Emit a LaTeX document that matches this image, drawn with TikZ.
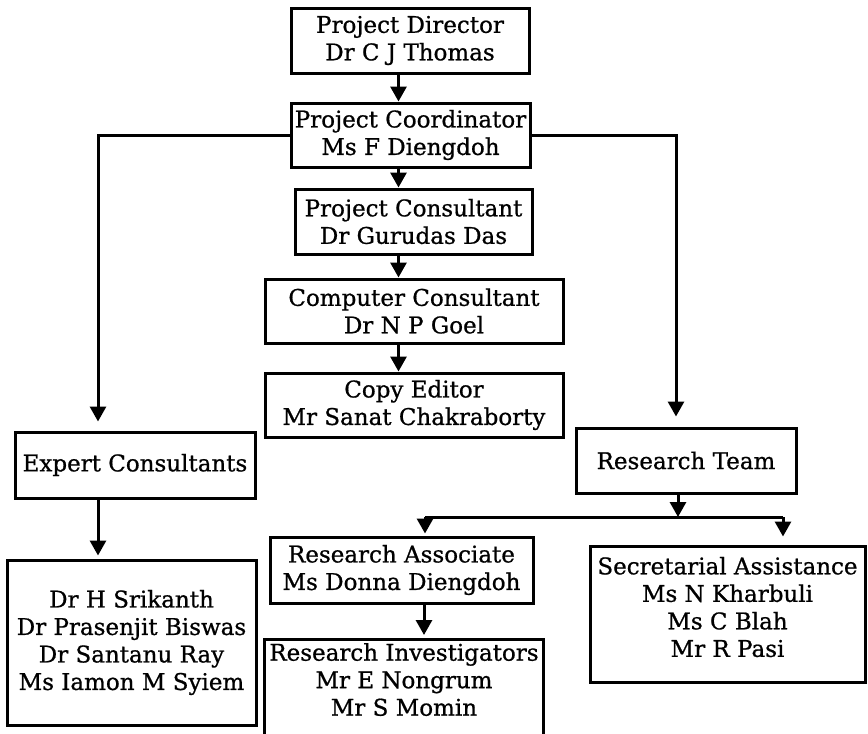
\documentclass[tikz,border=0pt]{standalone}
\usepackage{fontspec}
\setmainfont{DejaVu Serif}[FakeBold=0.8]
\usetikzlibrary{arrows.meta}
\begin{document}
\begin{tikzpicture}[x=1pt,y=-1pt,
  lbl/.style={font=\fontsize{23}{27.5}\selectfont, align=center},
  box/.style={lbl, draw, line width=3pt, inner sep=0pt},
  ln/.style={line width=3pt},
  arr/.style={ln, -{Triangle[length=15pt,width=16pt]}}]
\useasboundingbox (0,0) rectangle (868,734);
% boxes
\node[box, minimum width=238pt, minimum height=65pt] (PD) at (410,40.5) {Project Director\\Dr C J Thomas};
\node[box, minimum width=239pt, minimum height=64pt] (PC) at (410.5,135) {Project Coordinator\\Ms F Diengdoh};
\node[box, minimum width=237pt, minimum height=65pt] (PCo) at (413.5,221.5) {Project Consultant\\Dr Gurudas Das};
\node[box, minimum width=298pt, minimum height=64pt] (CC) at (414,311) {Computer Consultant\\Dr N P Goel};
\node[box, minimum width=298pt, minimum height=64pt] (CE) at (414,405) {Copy Editor\\Mr Sanat Chakraborty};
\node[box, minimum width=240pt, minimum height=66pt] (EC) at (135,465) {Expert Consultants};
\node[box, minimum width=249pt, minimum height=165pt] (EL) at (131.5,642.5) {Dr H Srikanth\\Dr Prasenjit Biswas\\Dr Santanu Ray\\Ms Iamon M Syiem};
\node[box, minimum width=220pt, minimum height=65pt] (RT) at (686,460.5) {Research Team};
\node[box, minimum width=263pt, minimum height=66pt] (RA) at (401.5,570) {Research Associate\\Ms Donna Diengdoh};
\node[box, minimum width=279pt, minimum height=130pt, anchor=north west] (RI) at (263,638) {};
\node[lbl, inner sep=0pt, anchor=north] (RIt) at ([yshift=-5pt]RI.north) {Research Investigators\\Mr E Nongrum\\Mr S Momin};
\node[box, minimum width=275pt, minimum height=136pt] (SA) at (727.5,614) {};
\node[lbl, inner sep=0pt] (SAt) at ([yshift=7pt]SA.center) {Secretarial Assistance\\Ms N Kharbuli\\Ms C Blah\\Mr R Pasi};
% guide coordinates
\coordinate (xa) at (398.5,0);
\coordinate (xe) at (98,0);
\coordinate (xr) at (676,0);
\coordinate (J) at (678,517);
\coordinate (JL) at (425,517);
\coordinate (JR) at (783,517);
\coordinate (xi) at (424,0);
% connectors
\draw[arr] (PD.south -| xa) -- (PC.north -| xa);
\draw[arr] (PC.south -| xa) -- (PCo.north -| xa);
\draw[arr] (PCo.south -| xa) -- (CC.north -| xa);
\draw[arr] (CC.south -| xa) -- (CE.north -| xa);
\draw[arr, shorten >=9pt] (PC.west) -| (EC.north -| xe);
\draw[arr, shorten >=10pt] (PC.east) -| (RT.north -| xr);
\draw[arr, shorten >=3pt] (EC.south -| xe) -- (EL.north -| xe);
\draw[arr] (RT.south -| J) -- (J);
\draw[ln] (JL) -- (JR);
\draw[arr, shorten >=2pt] (JL) -- (RA.north -| JL);
\draw[arr, shorten >=8pt] (JR) -- (SA.north -| JR);
\draw[arr, shorten >=3pt] (RA.south -| xi) -- (RI.north -| xi);
\end{tikzpicture}
\end{document}
